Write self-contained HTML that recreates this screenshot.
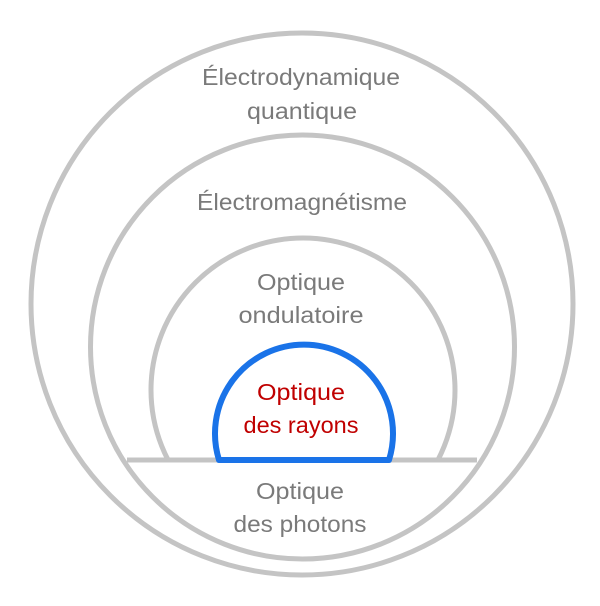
<!DOCTYPE html>
<html><head><meta charset="utf-8"><style>html,body{margin:0;padding:0;background:#fff}</style></head>
<body>
<svg width="600" height="601" viewBox="0 0 600 601" xmlns="http://www.w3.org/2000/svg">
<defs><clipPath id="c3"><rect x="0" y="0" width="600" height="460"/></clipPath></defs>
<g fill="none" stroke="#c4c4c4" stroke-width="5">
<circle cx="302" cy="304" r="271"/>
<circle cx="302.5" cy="347" r="212"/>
<circle cx="303" cy="390" r="152" clip-path="url(#c3)"/>
<line x1="127" y1="460" x2="477" y2="460"/>
</g>
<path d="M219 460 A89 89 0 1 1 389 460 Z" fill="#fff" stroke="#1a73e8" stroke-width="6" stroke-linejoin="round"/>
<g font-family="Liberation Sans, sans-serif" font-size="23" fill="#7a7a7a" text-anchor="middle" dominant-baseline="central">
<text x="301" y="77" textLength="198" lengthAdjust="spacingAndGlyphs">Électrodynamique</text>
<text x="302" y="111" textLength="110" lengthAdjust="spacingAndGlyphs">quantique</text>
<text x="302" y="202" textLength="210" lengthAdjust="spacingAndGlyphs">Électromagnétisme</text>
<text x="301" y="282" textLength="88" lengthAdjust="spacingAndGlyphs">Optique</text>
<text x="301" y="315" textLength="125" lengthAdjust="spacingAndGlyphs">ondulatoire</text>
<text x="301" y="392" fill="#c00000" textLength="88" lengthAdjust="spacingAndGlyphs">Optique</text>
<text x="301" y="425" fill="#c00000" textLength="115" lengthAdjust="spacingAndGlyphs">des rayons</text>
<text x="300" y="491" textLength="88" lengthAdjust="spacingAndGlyphs">Optique</text>
<text x="300" y="524" textLength="133" lengthAdjust="spacingAndGlyphs">des photons</text>
</g>
</svg>
</body></html>
